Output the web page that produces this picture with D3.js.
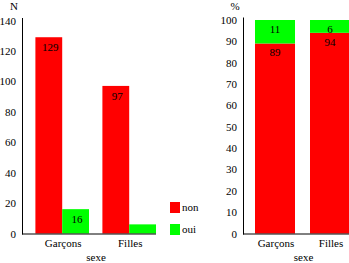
<!DOCTYPE html>
<html>
<head>
<meta charset="utf-8">
<script src="https://cdn.jsdelivr.net/npm/d3@7"></script>
<style>
    body { margin: 0; background: #fff; }
    svg text { font-family: "Liberation Serif", "Times New Roman", serif !important; font-size: 11px; fill: #000; }
</style>
</head>
<body>
<svg id="chart" width="349" height="263"></svg>
<script>
// data
var sexes = ['Garçons', 'Filles'];
var answers = ['non', 'oui'];
var counts = {non: [129, 97], oui: [16, 6]};
var percents = {non: [89, 94], oui: [11, 6]};
var countTicks = [0, 20, 40, 60, 80, 100, 120, 140];
var pctTicks = [0, 10, 20, 30, 40, 50, 60, 70, 80, 90, 100];
var colors = {non: '#ff0000', oui: '#00ff00'};

var svg = d3.select('#chart');

var drawYAxis = function (y, ticks, x0, title) {
    var g = svg.append('g').attr('transform', 'translate(' + x0 + ',0)');
    g.call(d3.axisLeft(y).tickValues(ticks).tickSize(0).tickPadding(6));
    g.attr('font-family', null).attr('font-size', null);
    g.select('.domain').remove();
    g.selectAll('text').attr('dy', '0.32em');
    g.append('line')
        .attr('x1', 0.5).attr('x2', 0.5)
        .attr('y1', y.range()[0] + 1).attr('y2', y.range()[1] - 2.5)
        .style('stroke', '#000');
    svg.append('text').attr('x', x0 - 8).attr('y', 10)
        .attr('text-anchor', 'middle').text(title);
};

var drawXAxis = function (x, y) {
    var base = y(0);
    svg.append('line')
        .attr('x1', x.range()[0]).attr('x2', x.range()[1])
        .attr('y1', base + 0.5).attr('y2', base + 0.5)
        .style('stroke', '#000');
    svg.selectAll(null)
        .data(sexes)
        .enter()
        .append('text')
        .attr('x', function (d) { return x(d) + x.bandwidth() / 2 + 1; })
        .attr('y', base + 13)
        .attr('text-anchor', 'middle')
        .text(function (d) { return d; });
    svg.append('text')
        .attr('x', (x.range()[0] + x.range()[1]) / 2 + 7)
        .attr('y', base + 27)
        .attr('text-anchor', 'middle')
        .text('sexe');
};

// left chart: grouped counts
var x1 = d3.scaleBand().domain(sexes).range([22, 156])
    .paddingInner(0.2).paddingOuter(0.1).align(1);
var xs = d3.scaleBand().domain(answers).range([0, x1.bandwidth()]);
var y1 = d3.scaleLinear().domain([0, 140]).range([233.5, 20.5]);

var bars1 = [];
answers.forEach(function (a) {
    sexes.forEach(function (s, i) {
        bars1.push({sex: s, ans: a, v: counts[a][i]});
    });
});

svg.selectAll('rect.count')
    .data(bars1)
    .enter()
    .append('rect')
    .attr('class', 'count')
    .attr('x', function (d) { return x1(d.sex) + xs(d.ans); })
    .attr('width', xs.bandwidth())
    .attr('y', function (d) { return y1(d.v); })
    .attr('height', function (d) { return y1(0) - y1(d.v); })
    .style('fill', function (d) { return colors[d.ans]; });

svg.selectAll('text.count')
    .data(bars1.filter(function (d) { return y1(0) - y1(d.v) > 15; }))
    .enter()
    .append('text')
    .attr('class', 'count')
    .attr('x', function (d) { return x1(d.sex) + xs(d.ans) + xs.bandwidth() / 2 + 1.5; })
    .attr('y', function (d) { return y1(d.v) + 14; })
    .attr('text-anchor', 'middle')
    .text(function (d) { return d.v; });

drawYAxis(y1, countTicks, 22, 'N');
drawXAxis(x1, y1);

// legend
var legend = svg.selectAll('g.legend')
    .data(answers)
    .enter()
    .append('g')
    .attr('class', 'legend')
    .attr('transform', function (d, i) { return 'translate(170,' + (202 + i * 22) + ')'; });
legend.append('rect').attr('width', 10).attr('height', 11)
    .style('fill', function (d) { return colors[d]; });
legend.append('text').attr('x', 12).attr('y', 8.5).text(function (d) { return d; });

// right chart: stacked percentages
var x2 = d3.scaleBand().domain(sexes).range([243, 350])
    .paddingInner(15 / 55).paddingOuter(6 / 55).align(1);
var y2 = d3.scaleLinear().domain([0, 100]).range([233.5, 20]);

var bars2 = [];
sexes.forEach(function (s, i) {
    var acc = 0;
    answers.forEach(function (a) {
        bars2.push({sex: s, ans: a, v: percents[a][i], y0: acc, y1: acc + percents[a][i]});
        acc += percents[a][i];
    });
});

svg.selectAll('rect.pct')
    .data(bars2)
    .enter()
    .append('rect')
    .attr('class', 'pct')
    .attr('x', function (d) { return x2(d.sex); })
    .attr('width', x2.bandwidth())
    .attr('y', function (d) { return y2(d.y1); })
    .attr('height', function (d) { return y2(d.y0) - y2(d.y1); })
    .style('fill', function (d) { return colors[d.ans]; });

svg.selectAll('text.pct')
    .data(bars2)
    .enter()
    .append('text')
    .attr('class', 'pct')
    .attr('x', function (d) { return x2(d.sex) + x2.bandwidth() / 2; })
    .attr('y', function (d) { return y2(d.y1) + 13; })
    .attr('text-anchor', 'middle')
    .text(function (d) { return d.v; });

drawYAxis(y2, pctTicks, 243, '%');
drawXAxis(x2, y2);
</script>
</body>
</html>
